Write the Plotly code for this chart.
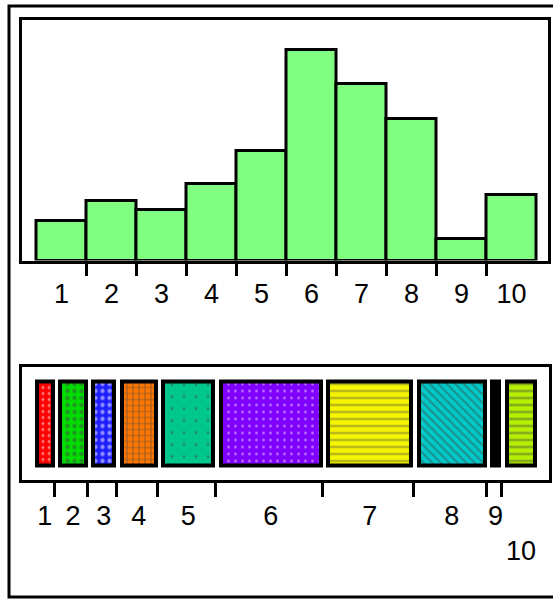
import plotly.graph_objects as go

# ---------------- data ----------------
categories = ["1", "2", "3", "4", "5", "6", "7", "8", "9", "10"]
counts = [40, 60, 51, 77, 110, 211, 177, 142, 22, 66]
hist_color = "#80FF80"
spine_colors = ["#FF0000", "#00DD00", "#1E1EFF", "#FF7700", "#00C88C",
                "#8000FF", "#F5F500", "#00C8C8", "#000000", "#B4F000"]
spine_patterns = [".", ".", ".", "+", ".", ".", "-", "\\", "", "-"]
spine_pattern_sizes = [6, 7, 7, 6, 12, 7, 7, 6, 6, 7]
spine_pattern_solidity = [0.2, 0.3, 0.3, 0.35, 0.05, 0.12, 0.25, 0.3, 0.1, 0.3]

# ---------------- layout constants (pixels) ----------------
W, H = 553, 599
FONT = dict(family="Liberation Sans, Arial, sans-serif", size=27, color="black")


def px_x(p):
    return p / W


def px_y(p):
    return 1 - p / H


n = len(counts)
xs = list(range(1, n + 1))

# top histogram geometry
T_L, T_R, T_T, T_B = 21.5, 547.5, 20, 260.5
BAR_L, BAR_R = 36.5, 536.5          # centreline of first / last bar edge
unit = (BAR_R - BAR_L) / n
x1range = [0.5 - (BAR_L - T_L) / unit, n + 0.5 + (T_R - BAR_R) / unit]
y1range = [0, T_B - T_T]

# bottom spine plot geometry
B_L, B_R, B_T, B_B = 22, 548.5, 366.5, 479.5
BOX_L, BOX_R = 35, 537
GAP = 7.1
BORDER = 4
lefts = []
pos = 0
for c in counts:
    lefts.append(pos)
    pos += c + GAP
total = pos - GAP
s = (BOX_R - BOX_L) / total
x2range = [-(BOX_L - B_L) / s, total + (B_R - BOX_R) / s]
inset = BORDER / s
centers = [l + c / 2 for l, c in zip(lefts, counts)]
widths = [c - inset for c in counts]
rights = [l + c for l, c in zip(lefts, counts)][:-1]
box_base = 0.128
box_h = 0.735

fig = go.Figure()

fig.add_trace(go.Bar(
    x=xs, y=counts, width=1,
    marker=dict(color=hist_color, line=dict(color="black", width=3)),
    xaxis="x", yaxis="y", showlegend=False, hoverinfo="skip",
))

fig.add_trace(go.Bar(
    x=centers, y=[box_h] * n, base=[box_base] * n, width=widths,
    marker=dict(
        color=spine_colors,
        line=dict(color="black", width=BORDER),
        pattern=dict(shape=spine_patterns, fgcolor="white",
                     size=spine_pattern_sizes, solidity=spine_pattern_solidity),
    ),
    xaxis="x2", yaxis="y2", showlegend=False, hoverinfo="skip",
))

fig.update_layout(
    width=W, height=H,
    margin=dict(l=0, r=0, t=0, b=0),
    paper_bgcolor="white", plot_bgcolor="white",
    font=FONT,
    bargap=0,
    xaxis=dict(
        domain=[px_x(T_L), px_x(T_R)], range=x1range, anchor="y",
        showline=True, linecolor="black", linewidth=3, mirror=True,
        showgrid=False, zeroline=False,
        tickmode="array", tickvals=xs, ticktext=categories, ticks="",
        ticklabelstandoff=7, tickfont=FONT,
        minor=dict(tickmode="array", tickvals=[i + 0.5 for i in xs[:-1]],
                   ticks="outside", ticklen=12, tickwidth=3, tickcolor="black",
                   showgrid=False),
    ),
    yaxis=dict(
        domain=[px_y(T_B), px_y(T_T)], range=y1range, anchor="x",
        showline=True, linecolor="black", linewidth=3, mirror=True,
        showgrid=False, zeroline=False, showticklabels=False, ticks="",
    ),
    xaxis2=dict(
        domain=[px_x(B_L), px_x(B_R)], range=x2range, anchor="y2",
        showline=True, linecolor="black", linewidth=3, mirror=True,
        showgrid=False, zeroline=False,
        tickmode="array", tickvals=centers[:-1], ticktext=categories[:-1], ticks="",
        ticklabelstandoff=10, tickfont=FONT,
        minor=dict(tickmode="array", tickvals=rights,
                   ticks="outside", ticklen=14, tickwidth=3, tickcolor="black",
                   showgrid=False),
    ),
    yaxis2=dict(
        domain=[px_y(B_B), px_y(B_T)], range=[0, 1], anchor="x2",
        showline=True, linecolor="black", linewidth=3, mirror=True,
        showgrid=False, zeroline=False, showticklabels=False, ticks="",
    ),
    annotations=[dict(
        x=centers[-1], xref="x2", y=px_y(551), yref="paper",
        text=categories[-1], showarrow=False, font=FONT,
        xanchor="center", yanchor="middle",
    )],
    shapes=[dict(
        type="rect", xref="paper", yref="paper",
        x0=px_x(9), x1=1.2, y0=px_y(597), y1=px_y(6),
        line=dict(color="black", width=3), layer="below",
    )],
)

fig.write_html(
    "out.html",
    config={"displayModeBar": False},
    post_script="document.body.style.margin='0';document.body.style.overflow='hidden';",
)
